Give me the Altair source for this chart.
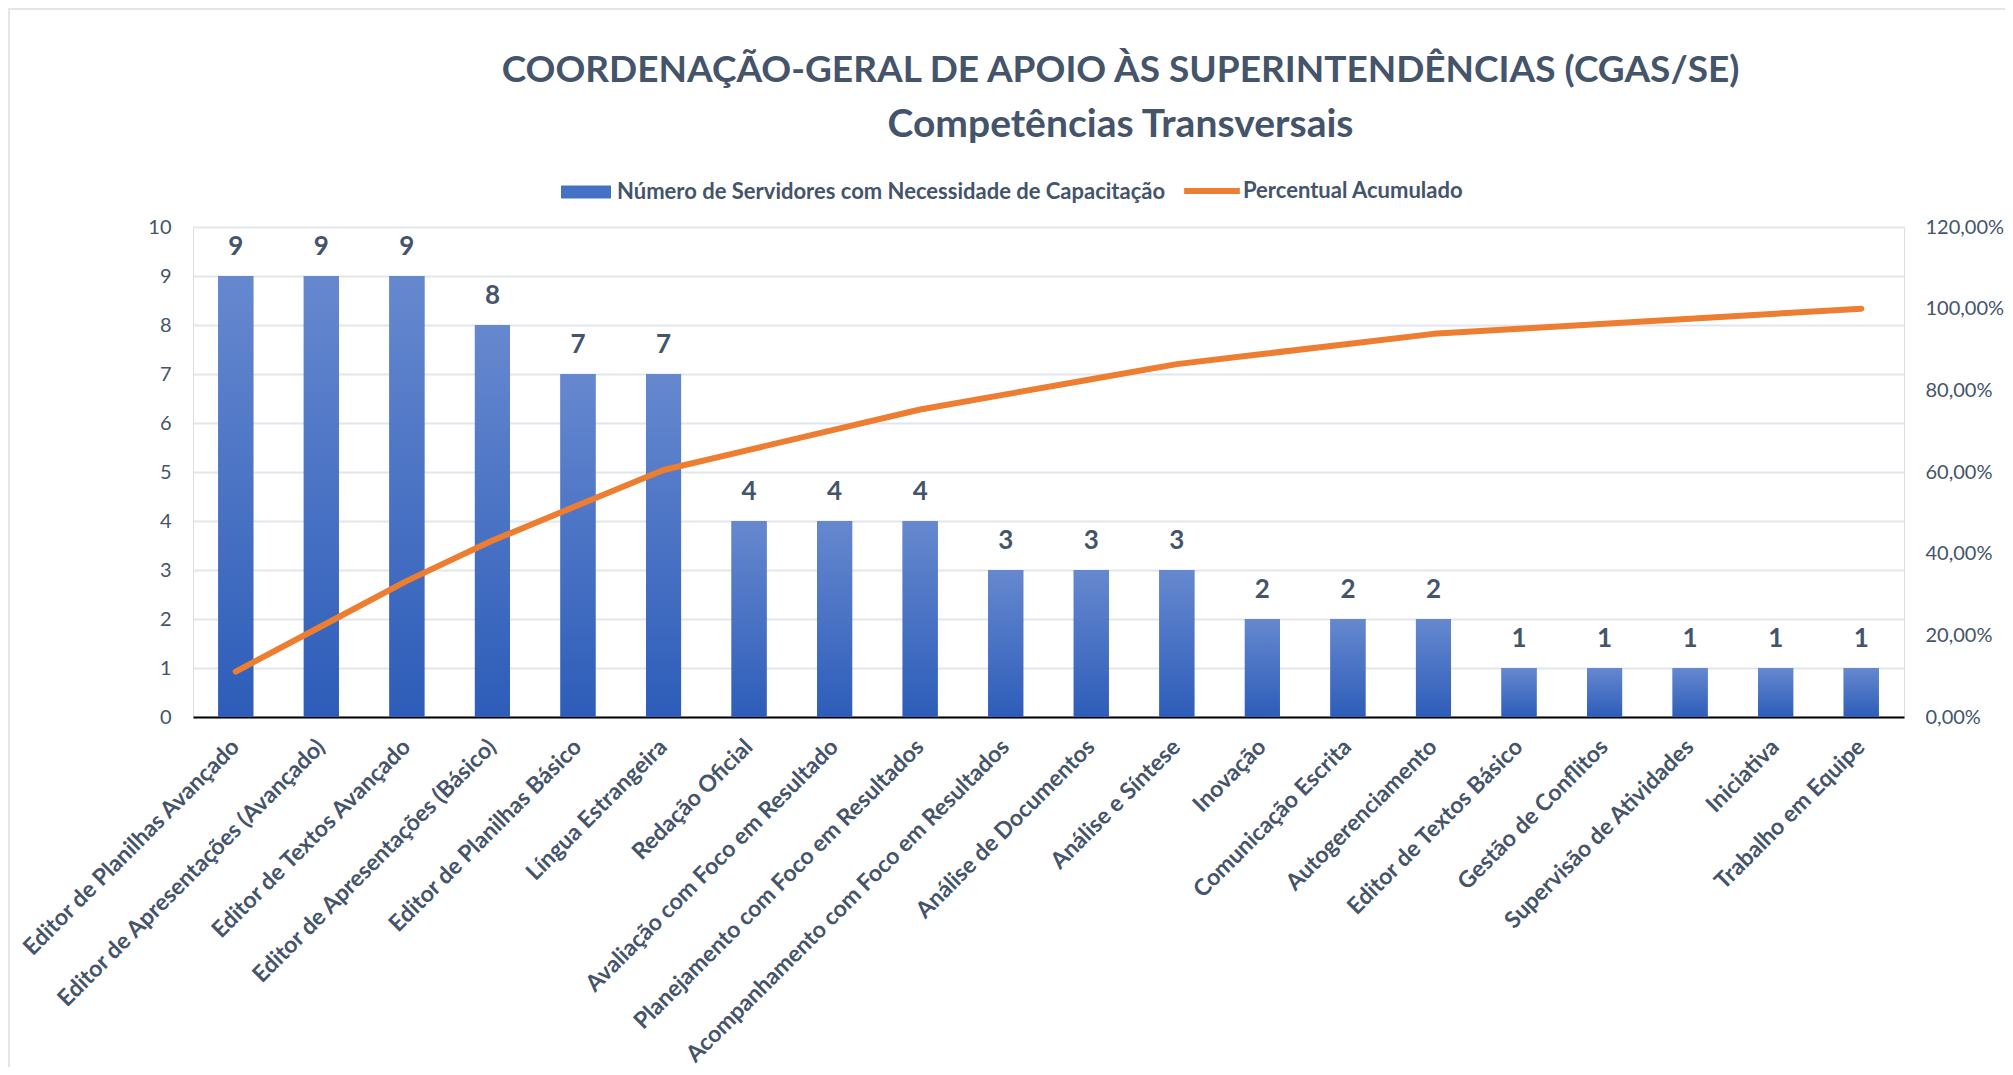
import altair as alt
import pandas as pd

categories = [
    "Editor de Planilhas Avançado",
    "Editor de Apresentações (Avançado)",
    "Editor de Textos Avançado",
    "Editor de Apresentações (Básico)",
    "Editor de Planilhas Básico",
    "Língua Estrangeira",
    "Redação Oficial",
    "Avaliação com Foco em Resultado",
    "Planejamento com Foco em Resultados",
    "Acompanhamento com Foco em Resultados",
    "Análise de Documentos",
    "Análise e Síntese",
    "Inovação",
    "Comunicação Escrita",
    "Autogerenciamento",
    "Editor de Textos Básico",
    "Gestão de Conflitos",
    "Supervisão de Atividades",
    "Iniciativa",
    "Trabalho em Equipe",
]
counts = [9, 9, 9, 8, 7, 7, 4, 4, 4, 3, 3, 3, 2, 2, 2, 1, 1, 1, 1, 1]
cum_pct = [0.1111, 0.2222, 0.3333, 0.4321, 0.5185, 0.6049, 0.6543, 0.7037,
           0.7531, 0.7901, 0.8272, 0.8642, 0.8889, 0.9136, 0.9383, 0.9506,
           0.9630, 0.9753, 0.9877, 1.0]
left_ticks = list(range(0, 11))
right_ticks = [0, 0.2, 0.4, 0.6, 0.8, 1.0, 1.2]

BAR_NAME = "Número de Servidores com Necessidade de Capacitação"
LINE_NAME = "Percentual Acumulado"
TXT = "#44546A"
FONT = "Lato"
BORDER = "#E1E5EC"

df = pd.DataFrame({"cat": categories, "n": counts, "pct": cum_pct})

x = alt.X(
    "cat:N",
    sort=categories,
    scale=alt.Scale(paddingInner=0.59, paddingOuter=0.295),
    axis=alt.Axis(
        title=None, labelAngle=-45, labelAlign="right", labelBaseline="middle",
        labelFontSize=23, labelFontWeight="bold", labelColor=TXT, labelFont=FONT,
        labelPadding=26, ticks=False, domainColor="#000000", domainWidth=2,
        labelLimit=700, labelOverlap=False,
    ),
)

y_left = alt.Y(
    "n:Q",
    scale=alt.Scale(domain=[0, 10], nice=False),
    axis=alt.Axis(
        title=None, values=left_ticks, grid=True, gridColor="#E1E5EC", gridWidth=2,
        domain=False, ticks=False, labelFontSize=20, labelColor=TXT, labelFont=FONT,
        labelPadding=22,
    ),
)

base = alt.Chart(df)

bars_legend = base.mark_bar().encode(
    x=x,
    y=y_left,
    fill=alt.Fill(
        "k:N",
        scale=alt.Scale(domain=[BAR_NAME], range=["#4472C4"]),
        legend=alt.Legend(
            title=None, orient="none", legendX=368, legendY=-60,
            symbolType="M-1,-0.26H1V0.26H-1Z", symbolSize=2500,
            labelFontSize=22, labelFontWeight="bold", labelColor=TXT, labelFont=FONT,
            labelOffset=6, symbolStrokeWidth=0, labelLimit=900,
        ),
    ),
).transform_calculate(k=f"'{BAR_NAME}'")

bars = base.mark_bar(
    color=alt.Gradient(
        gradient="linear",
        stops=[alt.GradientStop(color="#6688CF", offset=0),
               alt.GradientStop(color="#2D5DB9", offset=1)],
        x1=0, x2=0, y1=0, y2=1,
    )
).encode(x=x, y=y_left)

labels = base.mark_text(
    dy=-29, fontSize=26, fontWeight="bold", color=TXT, font=FONT, baseline="middle"
).encode(x=x, y=y_left, text="n:Q")

left = alt.layer(bars_legend, bars, labels)

line = base.mark_line(strokeWidth=6, strokeCap="round", strokeJoin="round").encode(
    x=x,
    y=alt.Y(
        "pct:Q",
        scale=alt.Scale(domain=[0, 1.2], nice=False),
        axis=alt.Axis(
            title=None, orient="right", values=right_ticks, grid=False, domain=False,
            ticks=False, labelFontSize=20, labelColor=TXT, labelFont=FONT,
            labelPadding=21,
            labelExpr="replace(format(datum.value * 100, '.2f'), '.', ',') + '%'",
        ),
    ),
    stroke=alt.Stroke(
        "k2:N",
        scale=alt.Scale(domain=[LINE_NAME], range=["#ED7D31"]),
        legend=alt.Legend(
            title=None, orient="none", legendX=988, legendY=-67,
            symbolType="stroke", symbolSize=3100, symbolStrokeWidth=6,
            labelFontSize=22, labelFontWeight="bold", labelColor=TXT, labelFont=FONT,
            labelOffset=0, labelLimit=600,
        ),
    ),
).transform_calculate(k2=f"'{LINE_NAME}'")

# light frame along the top and left edges of the chart area
frame_df = pd.DataFrame({"f": [0]})
frame_top = alt.Chart(frame_df).mark_rule(color=BORDER, strokeWidth=2).encode(
    x=alt.value(-185), x2=alt.value(1812), y=alt.value(-218)
)
frame_left = alt.Chart(frame_df).mark_rule(color=BORDER, strokeWidth=2).encode(
    x=alt.value(-184), y=alt.value(-218), y2=alt.value(850)
)

chart = (
    alt.layer(frame_top, frame_left, left, line)
    .resolve_scale(y="independent", fill="independent", stroke="independent")
    .properties(
        width=1711,
        height=490,
        autosize=alt.AutoSizeParams(type="none"),
        padding={"left": 185, "top": 219, "right": 101, "bottom": 350},
        title=alt.TitleParams(
            text="COORDENAÇÃO-GERAL DE APOIO ÀS SUPERINTENDÊNCIAS (CGAS/SE)",
            subtitle="Competências Transversais",
            font=FONT, fontSize=37, fontWeight="bold", color=TXT,
            subtitleFont=FONT, subtitleFontSize=39, subtitleFontWeight="bold",
            subtitleColor=TXT, subtitlePadding=16,
            anchor="middle", dx=72, offset=-137.5,
        ),
    )
    .configure_view(stroke=None)
    .configure(background="#FFFFFF")
)

chart.save("out.html", embed_options={"renderer": "svg", "actions": False})
